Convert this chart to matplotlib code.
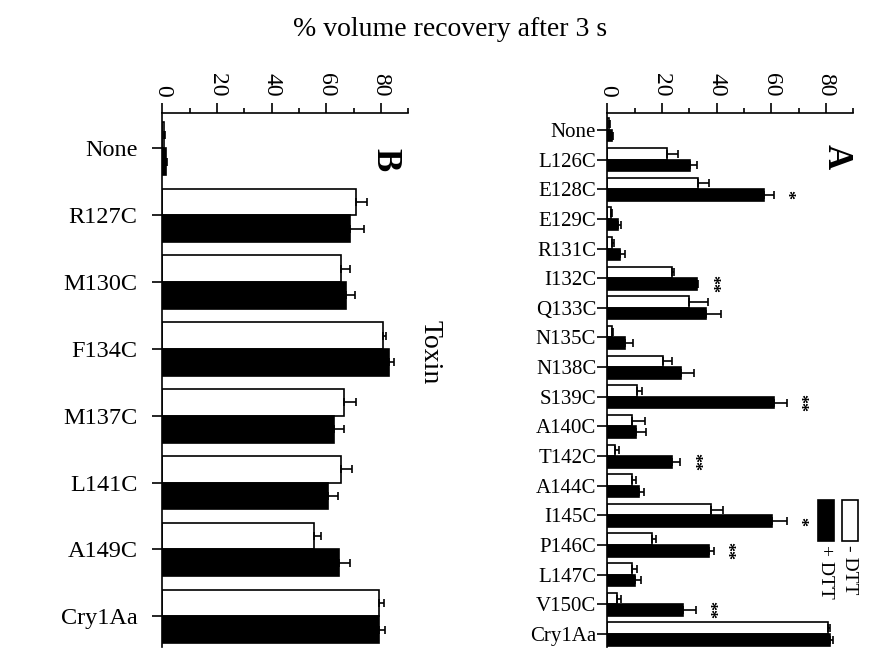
"""Volume recovery after 3 s for cysteine mutants, with and without DTT."""

import matplotlib

matplotlib.use("Agg")

import matplotlib.pyplot as plt
import numpy as np
from matplotlib.patches import Rectangle
from matplotlib.ticker import MultipleLocator

plt.rcParams.update(
    {
        "font.family": ["Liberation Serif", "DejaVu Serif"],
        "axes.linewidth": 1.2,
        "xtick.major.width": 1.2,
        "xtick.minor.width": 1.2,
        "ytick.major.width": 1.2,
        "xtick.major.size": 7.0,
        "xtick.minor.size": 3.6,
        "ytick.major.size": 7.0,
    }
)

# Panel A: helix mutants
A_TOXINS = ["None", "L126C", "E128C", "E129C", "R131C", "I132C", "Q133C", "N135C",
            "N138C", "S139C", "A140C", "T142C", "A144C", "I145C", "P146C", "L147C",
            "V150C", "Cry1Aa"]
A_MINUS = [0.8, 21.8, 33.3, 1.3, 1.6, 23.6, 29.9, 1.7, 20.2, 10.8, 9.2, 2.9, 9.2,
           37.8, 16.3, 9.0, 3.5, 80.8]
A_MINUS_ERR = [0.3, 4.0, 3.9, 0.5, 0.8, 0.8, 6.8, 0.3, 3.4, 1.8, 4.6, 1.5, 1.2,
               4.4, 1.5, 1.8, 1.5, 0.8]
A_PLUS = [1.8, 30.3, 57.3, 3.9, 4.7, 32.7, 36.1, 6.6, 26.9, 61.0, 10.5, 23.6, 11.7,
          60.1, 37.2, 10.0, 27.8, 81.4]
A_PLUS_ERR = [0.3, 2.6, 3.6, 1.0, 1.8, 0.6, 5.4, 2.7, 4.9, 4.6, 3.7, 3.0, 1.8,
              5.5, 1.8, 2.3, 4.5, 1.2]
A_SIG = ["", "", "*", "", "", "**", "", "", "", "**", "", "**", "", "*", "**", "",
         "**", ""]

# Panel B: loop mutants
B_TOXINS = ["None", "R127C", "M130C", "F134C", "M137C", "L141C", "A149C", "Cry1Aa"]
B_MINUS = [0.6, 71.0, 65.3, 80.7, 66.4, 65.5, 55.5, 79.4]
B_MINUS_ERR = [0.3, 3.9, 3.4, 1.2, 4.6, 4.0, 2.7, 1.6]
B_PLUS = [1.3, 68.6, 67.1, 82.8, 62.8, 60.6, 64.6, 79.1]
B_PLUS_ERR = [0.3, 5.0, 3.4, 1.8, 3.6, 3.6, 3.9, 2.4]

X_TICKS = [0, 20, 40, 60, 80]


def draw_panel(ax, toxins, minus, minus_err, plus, plus_err, label_size, label_pad,
               bar_h=0.4, sig=None):
    n = len(toxins)
    pos = np.arange(n)
    err_style = dict(ecolor="black", elinewidth=1.2, capsize=3.0, capthick=1.2)
    ax.barh(pos - bar_h / 2, minus, height=bar_h, color="white", edgecolor="black",
            linewidth=1.2, xerr=[np.zeros(n), minus_err], error_kw=err_style)
    ax.barh(pos + bar_h / 2, plus, height=bar_h, color="black", edgecolor="black",
            linewidth=1.2, xerr=[np.zeros(n), plus_err], error_kw=err_style)
    if sig is not None:
        for i, s in enumerate(sig):
            if s:
                ax.text(plus[i] + plus_err[i] + 4.5, pos[i] + bar_h / 2, s,
                        rotation=-90, ha="center", va="center", fontsize=13,
                        fontweight="bold")

    ax.set_xlim(0, 90)
    ax.xaxis.tick_top()
    ax.set_xticks(X_TICKS)
    ax.xaxis.set_minor_locator(MultipleLocator(10))
    ax.tick_params(axis="x", which="both", direction="out", labelrotation=-90,
                   labelsize=17, pad=5)
    ax.set_yticks(pos)
    ax.set_yticklabels(toxins)
    ax.tick_params(axis="y", direction="out", labelsize=label_size, pad=label_pad)
    ax.spines["right"].set_visible(False)
    ax.spines["bottom"].set_visible(False)


fig = plt.figure(figsize=(8.78, 6.49), dpi=100)

ax_b = fig.add_axes([0.1849, 0.003, 0.2802, 0.8229])
draw_panel(ax_b, B_TOXINS, B_MINUS, B_MINUS_ERR, B_PLUS, B_PLUS_ERR,
           label_size=17.5, label_pad=11)
ax_b.set_ylim(7.46, -0.53)

ax_a = fig.add_axes([0.6917, 0.003, 0.2802, 0.8229])
draw_panel(ax_a, A_TOXINS, A_MINUS, A_MINUS_ERR, A_PLUS, A_PLUS_ERR,
           label_size=15, label_pad=1, bar_h=0.39, sig=A_SIG)
ax_a.set_ylim(17.44, -0.57)

# panel letters
fig.text(385 / 878, 1 - 160 / 649, "B", rotation=-90, ha="center", va="center",
         fontsize=25, fontweight="bold")
fig.text(836 / 878, 1 - 157 / 649, "A", rotation=-90, ha="center", va="center",
         fontsize=25, fontweight="bold")

fig.text(0.5126, 1 - 30 / 649, "% volume recovery after 3 s", ha="center",
         va="center", fontsize=20)
fig.text(430 / 878, 1 - 352 / 649, "Toxin", rotation=-90, ha="center",
         va="center", fontsize=20)

# legend boxes with rotated labels
for x0, face, label in [(818, "black", "+ DTT"), (842, "white", "- DTT")]:
    fig.patches.append(
        Rectangle((x0 / 878, 1 - 541 / 649), 16 / 878, 41 / 649,
                  transform=fig.transFigure, facecolor=face, edgecolor="black",
                  linewidth=1.2)
    )
    fig.text((x0 + 8) / 878, 1 - 545 / 649, label, rotation=-90, ha="center",
             va="top", fontsize=14)

fig.savefig("out.png", dpi=100)
